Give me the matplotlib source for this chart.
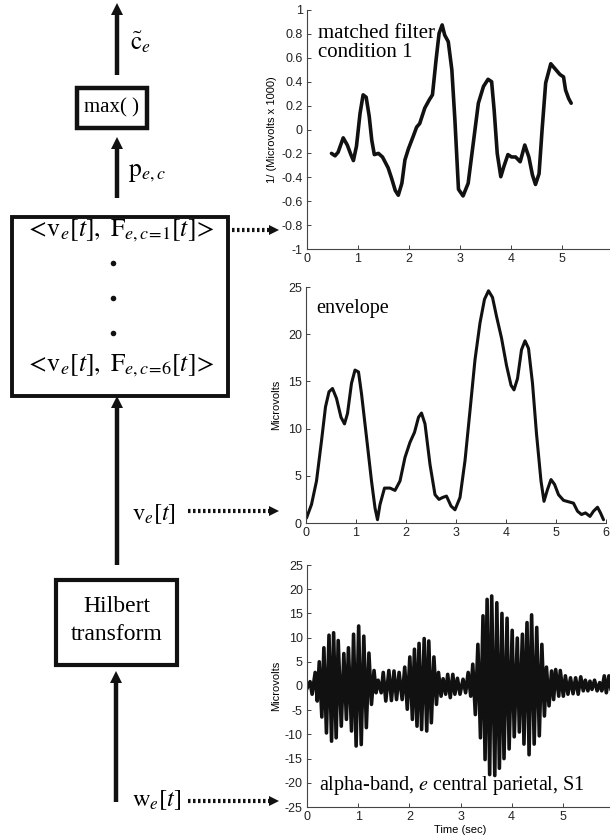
import matplotlib
matplotlib.use("Agg")
import matplotlib.pyplot as plt
import numpy as np
from matplotlib.patches import Rectangle

plt.rcParams['font.family'] = ['Liberation Sans', 'DejaVu Sans']
plt.rcParams['mathtext.fontset'] = 'stix'
plt.rcParams['axes.unicode_minus'] = False

# matched filter, condition 1 (1/(uV x 1000))
mf_t = [0.48, 0.55, 0.61, 0.71, 0.79, 0.86, 0.91, 0.97, 1.04, 1.10, 1.16, 1.22, 1.27,
        1.32, 1.40, 1.48, 1.59, 1.66, 1.73, 1.79, 1.86, 1.92, 1.99, 2.08, 2.15, 2.21,
        2.31, 2.40, 2.46, 2.53, 2.59, 2.65, 2.70, 2.77, 2.84, 2.90, 2.97, 3.06, 3.16,
        3.26, 3.36, 3.46, 3.55, 3.62, 3.67, 3.73, 3.80, 3.86, 3.94, 4.01, 4.09, 4.18,
        4.27, 4.35, 4.42, 4.48, 4.55, 4.61, 4.68, 4.78, 4.86, 4.96, 5.03, 5.07, 5.13,
        5.18]
mf_v = [-0.20, -0.22, -0.19, -0.07, -0.13, -0.21, -0.26, -0.14, 0.135, 0.29, 0.27, 0.11,
        -0.09, -0.21, -0.20, -0.23, -0.32, -0.41, -0.51, -0.55, -0.45, -0.255, -0.16,
        -0.06, 0.02, 0.05, 0.18, 0.25, 0.29, 0.58, 0.805, 0.875, 0.79, 0.735, 0.50,
        0.08, -0.50, -0.556, -0.45, -0.115, 0.22, 0.36, 0.42, 0.40, 0.16, -0.20, -0.395,
        -0.31, -0.21, -0.23, -0.23, -0.27, -0.13, -0.23, -0.38, -0.46, -0.37, 0.0, 0.39,
        0.55, 0.51, 0.46, 0.44, 0.33, 0.26, 0.22]

# envelope (uV)
env_t = [0.01, 0.11, 0.21, 0.31, 0.39, 0.46, 0.53, 0.61, 0.70, 0.77, 0.83, 0.91, 0.98,
         1.05, 1.11, 1.21, 1.31, 1.38, 1.43, 1.48, 1.57, 1.68, 1.78, 1.88, 1.98, 2.08,
         2.17, 2.25, 2.31, 2.38, 2.48, 2.58, 2.66, 2.73, 2.81, 2.90, 2.98, 3.08, 3.18,
         3.28, 3.38, 3.48, 3.57, 3.65, 3.73, 3.81, 3.91, 4.01, 4.10, 4.16, 4.23, 4.31,
         4.38, 4.45, 4.53, 4.61, 4.70, 4.76, 4.83, 4.90, 4.97, 5.05, 5.15, 5.25, 5.35,
         5.43, 5.51, 5.59, 5.68, 5.75, 5.83, 5.89, 5.95]
env_v = [0.53, 1.96, 4.45, 8.7, 12.3, 13.9, 14.25, 13.2, 11.2, 10.5, 11.6, 14.8, 16.2,
         16.0, 13.7, 9.1, 4.45, 1.6, 0.35, 1.96, 3.7, 3.7, 3.45, 4.45, 6.95, 8.55, 9.6,
         11.2, 11.65, 10.5, 6.2, 3.0, 2.5, 2.7, 2.85, 1.8, 1.4, 2.7, 6.6, 11.9, 17.3,
         21.2, 23.7, 24.6, 23.9, 21.9, 19.6, 16.7, 14.6, 14.1, 15.3, 18.35, 19.3, 18.5,
         14.8, 9.45, 4.45, 2.3, 3.55, 4.6, 4.1, 3.0, 2.4, 2.25, 2.1, 1.25, 0.9, 1.07,
         0.7, 1.25, 1.67, 1.07, 0.35]

# alpha-band signal: positive peaks and negative troughs (uV)
peak_t = [0.06, 0.16, 0.24, 0.33, 0.43, 0.52, 0.61, 0.72, 0.81, 0.91, 1.01, 1.11, 1.21,
          1.31, 1.39, 1.49, 1.60, 1.70, 1.80, 1.91, 2.01, 2.10, 2.19, 2.29, 2.38, 2.48,
          2.57, 2.66, 2.75, 2.85, 2.94, 3.05, 3.15, 3.24, 3.34, 3.44, 3.52, 3.61, 3.71,
          3.81, 3.91, 4.01, 4.11, 4.21, 4.30, 4.39, 4.49, 4.59, 4.68, 4.78, 4.86, 4.95,
          5.05, 5.15, 5.25, 5.35, 5.44, 5.53, 5.62, 5.72, 5.81, 5.90]
peak_v = [0.9, 2.8, 5.0, 7.9, 10.5, 11.0, 9.4, 6.7, 7.9, 10.7, 12.4, 10.3, 6.8, 3.2,
          1.2, 2.8, 3.2, 3.1, 2.8, 3.9, 6.0, 7.6, 8.8, 9.8, 9.3, 6.0, 2.8, 1.5, 2.4, 2.4,
          1.6, 1.4, 2.8, 4.5, 8.6, 14.5, 17.9, 18.6, 17.2, 15.0, 14.0, 11.5, 9.9, 10.7,
          13.1, 14.7, 12.1, 8.6, 3.9, 3.1, 3.4, 3.2, 2.1, 1.7, 1.7, 1.9, 1.2, 1.0, 1.2,
          0.7, 2.1, 2.1]
trough_t = [0.10, 0.20, 0.29, 0.38, 0.48, 0.57, 0.67, 0.77, 0.87, 0.96, 1.06, 1.16, 1.26,
            1.35, 1.45, 1.54, 1.65, 1.75, 1.86, 1.96, 2.06, 2.15, 2.24, 2.34, 2.43, 2.53,
            2.62, 2.71, 2.80, 2.89, 2.99, 3.10, 3.20, 3.29, 3.39, 3.48, 3.57, 3.67, 3.76,
            3.85, 3.95, 4.05, 4.15, 4.24, 4.34, 4.44, 4.54, 4.64, 4.73, 4.82, 4.92, 5.01,
            5.10, 5.20, 5.30, 5.40, 5.49, 5.57, 5.67, 5.76, 5.85, 5.95]
trough_v = [-1.7, -3.1, -6.4, -9.7, -11.4, -10.7, -8.3, -6.9, -9.3, -12.4, -12.1, -8.6,
            -3.8, -1.4, -1.4, -3.1, -3.0, -2.8, -2.8, -4.8, -6.9, -8.3, -9.0, -9.3, -7.6,
            -3.8, -2.1, -1.7, -2.4, -1.7, -1.7, -1.4, -2.1, -5.9, -10.7, -15.2, -18.3,
            -18.5, -17.0, -15.0, -13.0, -10.5, -9.5, -12.0, -14.2, -12.0, -10.3, -6.2,
            -4.1, -2.8, -2.1, -2.1, -1.7, -1.6, -1.7, -1.0, -1.0, -0.7, -1.0, -1.0, -1.4,
            -1.2]

W, H = 610, 839
fig = plt.figure(figsize=(W / 100, H / 100), dpi=100)


def px_axes(x0, x1, ytop, ybot):
    return fig.add_axes([x0 / W, 1 - ybot / H, (x1 - x0) / W, (ybot - ytop) / H])


def style(ax, xt):
    for s in ['top', 'right']:
        ax.spines[s].set_visible(False)
    for s in ['left', 'bottom']:
        ax.spines[s].set_color('#444444')
        ax.spines[s].set_linewidth(0.8)
    ax.tick_params(direction='in', length=3, width=0.6, labelsize=9,
                   colors='#222222', pad=3)
    ax.set_xticks(xt)


serif = 'Liberation Serif'

# top: matched filter
ax1 = px_axes(307, 613, 10, 249)
ax1.plot(mf_t, mf_v, color='#111111', lw=2.6, solid_joinstyle='round', solid_capstyle='round')
ax1.set_xlim(0, 6)
ax1.set_ylim(-1, 1)
style(ax1, range(0, 6))
ax1.set_yticks(np.arange(-1, 1.01, 0.2))
ax1.yaxis.set_major_formatter(plt.FuncFormatter(lambda v, p: '%g' % (round(v, 1) + 0.0)))
ax1.set_ylabel('1/ (Microvolts x 1000)', fontsize=8, labelpad=3)
ax1.text(0.035, 0.94, 'matched filter\ncondition 1', transform=ax1.transAxes,
         family=serif, fontsize=15, va='top', linespacing=1.0)

# middle: envelope
ax2 = px_axes(306, 606, 287, 523)
ax2.plot(env_t, env_v, color='#111111', lw=2.2, solid_joinstyle='round', solid_capstyle='round')
ax2.set_xlim(0, 6)
ax2.set_ylim(0, 25)
style(ax2, range(0, 7))
ax2.set_yticks(range(0, 26, 5))
ax2.set_ylabel('Microvolts', fontsize=8, labelpad=5)
ax2.text(0.035, 0.95, 'envelope', transform=ax2.transAxes,
         family=serif, fontsize=14.5, va='top')

# bottom: alpha-band signal
sig_t = np.concatenate([[0.0], peak_t, trough_t])
sig_v = np.concatenate([[-0.5], peak_v, trough_v])
order = np.argsort(sig_t)
ax3 = px_axes(307, 614, 565, 807)
ax3.plot(sig_t[order], sig_v[order], color='#111111', lw=2.6, solid_joinstyle='round')
ax3.set_xlim(0, 6)
ax3.set_ylim(-25, 25)
style(ax3, range(0, 6))
ax3.set_yticks(range(-25, 26, 5))
ax3.set_ylabel('Microvolts', fontsize=8, labelpad=3)
ax3.set_xlabel('Time (sec)', fontsize=8, labelpad=1)
ax3.text(0.04, 0.09, 'alpha-band, $e$ central parietal, S1', transform=ax3.transAxes,
         family=serif, fontsize=14.5, va='center')

# block diagram on the left, drawn in pixel coordinates
dg = fig.add_axes([0, 0, 1, 1])
dg.set_xlim(0, W)
dg.set_ylim(H, 0)
dg.axis('off')
dg.patch.set_visible(False)
k = '#111111'


def up_arrow(x, y0, y1):
    dg.plot([x, x], [y0, y1 + 6], color=k, lw=3.2, solid_capstyle='butt')
    dg.plot([x], [y1 + 4], marker='^', ms=9, color=k, mew=0)


def dot_arrow(x0, x1, y):
    dg.plot([x0, x1 - 5], [y, y], color=k, lw=3.0, ls=(0, (0.6, 0.6)), solid_capstyle='butt')
    dg.plot([x1 - 3], [y], marker='>', ms=7, color=k, mew=0)


up_arrow(117, 75, 5)
dg.text(130, 42, r'$\tilde{\mathrm{c}}_e$', fontsize=18, va='center', ha='left')
dg.add_patch(Rectangle((77, 88), 70, 40, fill=False, lw=3.2, ec=k))
dg.text(112, 108, 'max( )', family=serif, fontsize=15, ha='center', va='center')
up_arrow(117, 198, 139)
dg.text(128, 172, r'$\mathrm{p}_{e,c}$', fontsize=18.5, va='center', ha='left')

dg.add_patch(Rectangle((12, 217), 216, 179, fill=False, lw=2.8, ec=k))
dg.text(120, 231, r'$<\!\mathrm{v}_e[t],\ \mathrm{F}_{e,c\!=\!1}[t]\!>$', fontsize=18.5,
        ha='center', va='center')
dg.text(120, 366, r'$<\!\mathrm{v}_e[t],\ \mathrm{F}_{e,c\!=\!6}[t]\!>$', fontsize=18.5,
        ha='center', va='center')
dg.plot([113, 113, 113], [263, 298, 333], 'o', ms=4, color=k, mew=0)
dot_arrow(232, 277, 230)

up_arrow(117, 565, 398)
dg.text(132, 514, r'$\mathrm{v}_e[t]$', fontsize=17.5, va='center', ha='left')
dot_arrow(188, 277, 511)

dg.add_patch(Rectangle((56, 580), 121, 85, fill=False, lw=3.0, ec=k))
dg.text(117, 606, 'Hilbert', family=serif, fontsize=17, ha='center', va='center')
dg.text(117, 634, 'transform', family=serif, fontsize=17, ha='center', va='center')

up_arrow(116, 802, 673)
dg.text(132, 800, r'$\mathrm{w}_e[t]$', fontsize=17.5, va='center', ha='left')
dot_arrow(188, 277, 801)

fig.savefig('out.png', dpi=100)
